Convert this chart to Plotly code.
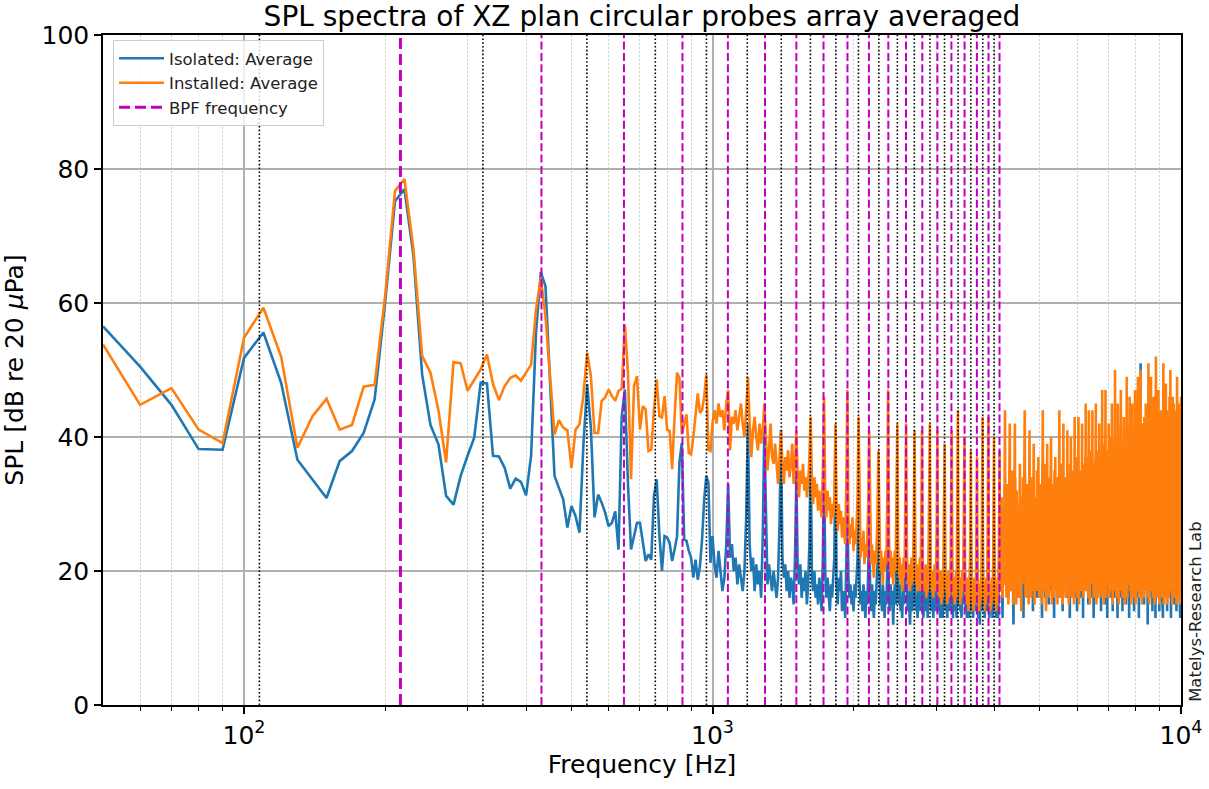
import math
import plotly.graph_objects as go

# ---------------- data ----------------
# Spectrum bins every 10 Hz
freq_low = list(range(50, 1001, 10))      # 96 bins
freq_mid = list(range(1010, 4101, 10))    # 310 bins
freq_high = list(range(4110, 10001, 10))  # 590 bins

isolated_low = [
    56.5, 50.5, 44.8, 38.2, 38.1, 51.8,
    55.6, 48.1, 36.6, 33.6, 30.9, 36.4, 37.9, 40.6, 45.6, 60.0,
    75.2, 77.0, 67.0, 49.3, 41.8, 38.9, 31.2, 29.9, 34.2, 37.2,
    39.9, 48.1, 48.0, 37.2, 37.1, 35.4, 32.3, 33.8, 33.3, 31.3,
    37.2, 55.6, 64.6, 62.5, 48.1, 34.2, 32.4, 30.7, 26.5, 29.7,
    28.2, 25.7, 38.6, 47.9, 41.4, 28.0, 31.4, 30.2, 28.7, 26.7,
    27.2, 28.9, 23.2, 43.1, 47.1, 33.0, 23.2, 25.0, 27.2, 27.2,
    24.2, 21.5, 22.5, 21.7, 31.2, 33.7, 25.5, 20.0, 25.2, 25.0,
    24.2, 21.5, 23.2, 25.2, 36.2, 39.1, 24.7, 24.5, 23.0, 22.0,
    19.0, 21.7, 18.7, 20.7, 24.7, 30.7, 34.2, 33.2, 21.2, 25.2,
]
installed_low = [
    53.8, 44.8, 47.3, 41.1, 39.1, 54.8,
    59.3, 52.0, 38.4, 43.1, 45.7, 41.1, 41.8, 47.5, 47.8, 61.0,
    76.7, 78.5, 68.0, 52.1, 49.6, 44.0, 36.2, 51.2, 51.0, 46.9,
    48.5, 50.1, 52.3, 47.9, 45.5, 47.6, 48.8, 49.2, 48.4, 49.6,
    50.8, 59.0, 63.8, 58.0, 49.1, 40.4, 42.5, 41.4, 41.0, 35.4,
    41.1, 41.9, 46.1, 52.6, 49.1, 40.6, 40.6, 45.4, 45.9, 47.1,
    46.1, 45.4, 46.9, 47.2, 56.8, 49.6, 33.7, 47.6, 49.1, 41.1,
    44.6, 44.1, 37.9, 38.1, 44.1, 48.6, 43.1, 42.9, 46.1, 41.1,
    40.9, 35.2, 43.1, 49.6, 48.8, 40.4, 42.0, 43.4, 37.6, 37.4,
    40.0, 43.6, 46.5, 43.6, 44.0, 46.0, 49.3, 38.1, 37.9, 42.1,
]

isolated_mid = [
    21, 19, 23, 20, 17, 19, 24, 33, 22, 24,
    20, 22, 18, 21, 19, 17, 20, 28, 42, 24,
    20, 22, 17, 21, 18, 20, 16, 25, 41, 26,
    18, 21, 19, 17, 20, 18, 16, 19, 27, 41,
    22, 19, 21, 17, 20, 16, 19, 18, 15, 22,
    34, 20, 18, 21, 16, 19, 17, 20, 15, 18,
    24, 38, 19, 17, 20, 16, 18, 15, 19, 17,
    14, 22, 37, 20, 16, 19, 17, 14, 18, 16,
    19, 22, 40, 18, 15, 19, 17, 20, 14, 17,
    16, 13, 21, 30, 19, 16, 18, 15, 17, 14,
    18, 16, 19, 22, 33, 18, 15, 17, 14, 18,
    16, 13, 17, 15, 20, 28, 17, 14, 18, 16,
    13, 17, 15, 18, 21, 31, 19, 15, 17, 14,
    18, 16, 13, 17, 15, 20, 27, 16, 14, 18,
    15, 17, 12, 16, 18, 15, 21, 30, 17, 15,
    18, 14, 16, 13, 17, 15, 18, 20, 26, 16,
    14, 17, 15, 12, 16, 18, 14, 16, 21, 28,
    17, 14, 16, 13, 17, 15, 18, 14, 20, 25,
    16, 13, 17, 15, 18, 14, 16, 13, 17, 21,
    29, 17, 14, 18, 15, 13, 17, 15, 18, 14,
    20, 26, 16, 14, 17, 13, 16, 18, 15, 13,
    17, 21, 27, 17, 14, 16, 13, 18, 15, 17,
    14, 16, 20, 25, 16, 13, 17, 15, 18, 14,
    16, 13, 19, 27, 18, 15, 17, 14, 16, 13,
    17, 15, 18, 20, 24, 16, 14, 17, 13, 16,
    18, 15, 13, 17, 20, 26, 17, 14, 16, 13,
    17, 15, 18, 14, 16, 20, 24, 16, 13, 17,
    15, 12, 16, 18, 14, 19, 27, 17, 14, 16,
    13, 17, 15, 18, 14, 16, 20, 25, 16, 13,
    17, 15, 18, 14, 16, 13, 17, 20, 26, 17,
    14, 16, 13, 18, 15, 17, 13, 16, 19, 25,
]
installed_mid = [
    44, 42, 45, 43, 44, 41, 45, 47, 38, 43,
    42, 44, 41, 43, 45, 42, 40, 44, 49, 42,
    37, 41, 43, 40, 38, 42, 39, 41, 45, 40,
    35, 38, 42, 37, 36, 39, 35, 33, 37, 41,
    36, 33, 37, 35, 38, 34, 36, 39, 33, 36,
    41, 34, 31, 35, 33, 36, 32, 34, 31, 33,
    37, 43, 33, 30, 34, 31, 33, 29, 32, 30,
    28, 35, 46, 31, 28, 32, 29, 31, 27, 30,
    28, 31, 42, 29, 26, 30, 27, 29, 25, 28,
    26, 24, 33, 47, 28, 24, 27, 25, 28, 23,
    26, 24, 27, 31, 43, 26, 22, 25, 23, 26,
    21, 24, 22, 25, 30, 41, 25, 21, 24, 22,
    19, 23, 21, 24, 28, 38, 24, 20, 23, 21,
    18, 22, 20, 23, 21, 30, 47, 25, 20, 23,
    19, 22, 18, 21, 23, 20, 28, 42, 24, 19,
    22, 18, 21, 17, 20, 22, 19, 27, 42, 23,
    18, 21, 19, 17, 20, 22, 18, 20, 28, 41,
    22, 18, 21, 17, 20, 18, 22, 17, 27, 41,
    21, 17, 20, 18, 21, 16, 19, 17, 20, 28,
    42, 21, 17, 20, 18, 16, 19, 21, 17, 19,
    27, 41, 20, 16, 19, 17, 20, 15, 18, 16,
    19, 26, 39, 21, 17, 19, 15, 18, 20, 16,
    18, 17, 26, 41, 20, 16, 19, 17, 15, 18,
    20, 16, 27, 44, 21, 17, 19, 15, 18, 16,
    20, 17, 19, 26, 40, 20, 16, 18, 15, 19,
    17, 14, 18, 16, 25, 38, 19, 15, 18, 16,
    14, 19, 17, 15, 18, 25, 37, 19, 15, 18,
    14, 17, 15, 19, 16, 27, 43, 20, 16, 18,
    14, 17, 15, 19, 16, 18, 26, 43, 19, 15,
    18, 14, 17, 15, 19, 16, 18, 25, 40, 19,
    15, 18, 14, 17, 15, 19, 16, 18, 25, 38,
]

isolated_high = [
    18, 24, 17, 27, 20, 13, 25, 21, 18, 26,
    33, 19, 25, 17, 28, 18, 23, 16, 26, 22,
    31, 20, 17, 27, 18, 30, 19, 22, 12, 24, 27,
    34, 18, 24, 17, 28, 19, 16, 26, 21, 18, 27,
    30, 18, 25, 16, 27, 20, 17, 29, 13, 23, 25,
    35, 19, 17, 26, 22, 18, 29, 18, 24, 16, 27,
    32, 17, 26, 20, 18, 30, 18, 23, 14, 26,
    31, 21, 17, 27, 17, 24, 19, 16, 30, 18, 25,
    30, 18, 16, 26, 22, 18, 29, 17, 25, 13, 28,
    36, 20, 17, 26, 18, 31, 16, 23, 17, 27, 24,
    33, 17, 27, 19, 15, 29, 21, 17, 25, 27,
    32, 18, 17, 29, 20, 16, 26, 22, 13, 30, 19,
    31, 23, 17, 27, 18, 25, 16, 30, 19, 17, 26,
    36, 18, 16, 28, 21, 17, 31, 17, 24, 14, 26,
    34, 20, 17, 27, 17, 30, 23, 16, 28, 18, 25,
    33, 16, 29, 19, 17, 26, 22, 13, 31, 24,
    32, 18, 17, 27, 21, 16, 30, 19, 25, 17, 28,
    35, 19, 16, 30, 17, 24, 20, 14, 32, 18, 27,
    35, 21, 17, 28, 19, 26, 16, 31, 22, 17, 27,
    34, 17, 25, 13, 31, 19, 27, 17, 29, 21, 24,
    37, 18, 17, 30, 23, 17, 32, 20, 15, 27,
    36, 19, 26, 17, 31, 18, 25, 16, 33, 21, 24,
    36, 17, 29, 20, 13, 32, 19, 26, 17, 30, 23,
    37, 18, 16, 33, 21, 17, 28, 24, 17, 31, 19,
    35, 25, 17, 32, 19, 29, 14, 22, 17, 31,
    38, 20, 16, 30, 23, 17, 34, 18, 27, 15, 29,
    38, 19, 26, 17, 33, 21, 13, 31, 20, 24, 17,
    35, 22, 17, 32, 18, 27, 16, 35, 20, 25, 17,
    37, 19, 30, 14, 34, 23, 17, 32, 19, 27, 16,
    40, 21, 17, 33, 24, 16, 31, 20, 28, 13,
    37, 19, 32, 22, 17, 35, 17, 26, 20, 31, 16,
    39, 23, 16, 30, 19, 34, 14, 28, 21, 18, 32,
    36, 17, 31, 24, 17, 36, 20, 27, 15, 33, 19,
    40, 22, 17, 34, 19, 29, 16, 37, 23, 13, 31,
    38, 20, 32, 17, 28, 25, 16, 35, 18, 30,
    37, 16, 33, 21, 17, 31, 24, 14, 36, 19, 27,
    39, 23, 17, 34, 18, 29, 16, 33, 21, 17, 37,
    41, 18, 30, 24, 13, 35, 20, 28, 17, 33, 22,
    51, 19, 17, 36, 25, 16, 32, 21, 29, 17,
    36, 34, 18, 27, 15, 38, 22, 17, 33, 20, 30,
    38, 17, 35, 23, 17, 31, 19, 39, 12, 28, 25,
    42, 18, 34, 21, 16, 37, 26, 17, 32, 20, 29,
    41, 23, 17, 36, 19, 30, 14, 40, 21, 17, 34,
    39, 20, 32, 25, 17, 38, 18, 29, 13, 35,
    43, 22, 16, 34, 20, 39, 17, 27, 24, 17, 37,
    40, 19, 31, 23, 14, 36, 21, 17, 35, 19, 29,
    38, 25, 17, 38, 18, 32, 16, 35, 22, 13, 33,
    48, 20, 17, 37, 24, 16, 34, 19, 30, 17, 40,
    41, 21, 35, 17, 28, 23, 14, 39, 19, 31,
    37, 17, 36, 24, 16, 33, 20, 41, 18, 27, 22,
    43, 19, 32, 13, 38, 23, 17, 35, 21, 17, 36,
    40, 25, 17, 34, 20, 40, 15, 30, 22, 18, 35,
    38, 20, 17, 37, 24, 17, 33, 14, 31, 23,
    42, 18, 35, 21, 16, 39, 25, 17, 32, 20, 36,
    39, 17, 29, 22, 13, 34, 24, 19, 40,
]
installed_high = [
    20, 27, 17, 31, 22, 16, 29, 24, 18, 30,
    44, 21, 28, 16, 33, 19, 26, 15, 30, 27,
    42, 23, 17, 30, 20, 35, 18, 25, 15, 28, 31,
    42, 19, 27, 15, 32, 22, 17, 29, 24, 16, 30,
    36, 20, 28, 14, 31, 23, 18, 34, 19, 26, 29,
    44, 22, 16, 30, 25, 17, 33, 20, 27, 15, 31,
    41, 18, 29, 23, 16, 34, 21, 26, 17, 30,
    39, 24, 15, 31, 19, 27, 22, 17, 35, 20, 28,
    37, 21, 16, 30, 25, 18, 33, 19, 28, 15, 32,
    44, 23, 17, 29, 20, 36, 18, 26, 14, 31, 27,
    39, 19, 30, 22, 16, 34, 24, 18, 28, 31,
    40, 20, 15, 33, 23, 18, 29, 25, 16, 35, 22,
    37, 26, 17, 31, 20, 28, 15, 34, 22, 19, 30,
    44, 21, 16, 32, 24, 18, 36, 20, 27, 15, 29,
    42, 23, 17, 30, 19, 34, 26, 16, 31, 21, 28,
    41, 18, 33, 22, 15, 29, 25, 19, 36, 27,
    40, 20, 16, 31, 24, 18, 35, 21, 28, 15, 32,
    43, 22, 17, 34, 19, 27, 23, 16, 37, 20, 30,
    43, 24, 15, 32, 21, 29, 18, 35, 25, 17, 31,
    42, 19, 28, 16, 36, 22, 30, 17, 33, 24, 27,
    45, 21, 17, 34, 26, 19, 37, 23, 16, 31,
    44, 22, 30, 15, 35, 20, 28, 18, 38, 24, 27,
    44, 19, 33, 23, 16, 36, 21, 29, 17, 34, 26,
    45, 20, 15, 38, 24, 18, 31, 27, 16, 35, 22,
    42, 28, 17, 37, 21, 33, 19, 25, 16, 36,
    47, 23, 18, 34, 26, 15, 39, 20, 30, 17, 33,
    47, 21, 29, 16, 38, 24, 19, 35, 22, 27, 18,
    42, 25, 16, 37, 20, 31, 17, 40, 23, 28, 19,
    45, 22, 34, 15, 39, 26, 18, 36, 21, 30, 17,
    50, 24, 19, 38, 27, 16, 35, 22, 31, 18,
    45, 21, 37, 25, 15, 40, 19, 29, 23, 36, 17,
    47, 26, 18, 34, 22, 39, 16, 31, 24, 20, 37,
    43, 19, 36, 27, 15, 41, 23, 30, 17, 38, 22,
    49, 25, 16, 39, 21, 33, 18, 42, 26, 19, 35,
    46, 23, 37, 17, 31, 28, 15, 40, 20, 34,
    45, 18, 38, 24, 16, 35, 27, 19, 41, 22, 30,
    47, 26, 15, 39, 21, 33, 17, 37, 24, 18, 42,
    49, 20, 34, 27, 16, 40, 23, 31, 18, 38, 25,
    50, 22, 17, 41, 28, 15, 36, 24, 33, 19,
    42, 39, 21, 30, 16, 43, 25, 18, 37, 23, 34,
    45, 17, 40, 26, 19, 35, 22, 44, 16, 31, 28,
    51, 20, 38, 24, 15, 42, 29, 18, 36, 23, 33,
    49, 26, 17, 41, 21, 34, 19, 45, 24, 16, 39,
    46, 22, 36, 28, 15, 43, 20, 32, 18, 40,
    52, 25, 16, 38, 23, 44, 19, 30, 27, 17, 42,
    47, 21, 35, 26, 15, 41, 24, 18, 39, 22, 33,
    44, 28, 17, 43, 20, 36, 16, 40, 25, 19, 37,
    51, 23, 15, 42, 27, 18, 38, 21, 34, 16, 45,
    48, 24, 39, 19, 31, 26, 15, 44, 22, 35,
    43, 18, 40, 27, 16, 37, 23, 46, 20, 30, 25,
    50, 21, 36, 17, 43, 26, 19, 39, 24, 15, 41,
    46, 28, 18, 38, 22, 45, 16, 33, 25, 20, 40,
    44, 23, 17, 42, 27, 19, 37, 15, 35, 26,
    49, 20, 39, 24, 16, 44, 28, 18, 36, 22, 41,
    45, 19, 33, 25, 15, 38, 27, 21, 46,
]

# Blade passing frequency and its harmonics (vertical guide lines)
bpf_hz = 215.7
bpf_orders = list(range(1, 20))                       # 1..19 x BPF
half_orders = [n - 0.5 for n in range(1, 20)]        # 0.5..18.5 x BPF

# ---------------- assemble ----------------
def join(fs, vs):
    xs, ys = [], []
    for f_list, v_list in zip(fs, vs):
        n = min(len(f_list), len(v_list))
        xs += f_list[:n]
        ys += v_list[:n]
    return xs, ys

x_iso, y_iso = join([freq_low, freq_mid, freq_high], [isolated_low, isolated_mid, isolated_high])
x_ins, y_ins = join([freq_low, freq_mid, freq_high], [installed_low, installed_mid, installed_high])

def vlines(freqs):
    xs, ys = [], []
    for f in freqs:
        xs += [f, f, None]
        ys += [0, 100, None]
    return xs, ys

FONT = "DejaVu Sans"
BLUE = "#1f77b4"
ORANGE = "#ff7f0e"
MAGENTA = "#bf00bf"

fig = go.Figure()
fig.add_trace(go.Scatter(x=x_iso, y=y_iso, mode="lines", name="Isolated: Average",
                         line=dict(color=BLUE, width=2.6)))
fig.add_trace(go.Scatter(x=x_ins, y=y_ins, mode="lines", name="Installed: Average",
                         line=dict(color=ORANGE, width=2.6)))

hx, hy = vlines([bpf_hz * k for k in half_orders])
fig.add_trace(go.Scatter(x=hx, y=hy, mode="lines", showlegend=False, hoverinfo="skip",
                         line=dict(color="black", width=1.6, dash="1.6px,2.2px")))
bx, by = vlines([bpf_hz * bpf_orders[0]])
fig.add_trace(go.Scatter(x=bx, y=by, mode="lines", name="BPF frequency",
                         line=dict(color=MAGENTA, width=3, dash="11px,5px")))
mx, my = vlines([bpf_hz * k for k in bpf_orders[1:]])
fig.add_trace(go.Scatter(x=mx, y=my, mode="lines", showlegend=False, hoverinfo="skip",
                         line=dict(color=MAGENTA, width=2, dash="8px,3.3px")))

minor_ticks = [60, 70, 80, 90, 200, 300, 400, 500, 600, 700, 800, 900,
               2000, 3000, 4000, 5000, 6000, 7000, 8000, 9000]

fig.update_layout(
    width=1209, height=789,
    margin=dict(l=103, r=28, t=35, b=84),
    paper_bgcolor="white", plot_bgcolor="white",
    font=dict(family=FONT, color="black", size=25),
    title=dict(text="SPL spectra of XZ plan circular probes array averaged",
               x=(103 + 1181) / 2 / 1209, xanchor="center",
               y=1 - 16 / 789, yanchor="middle", yref="container",
               font=dict(size=28, family=FONT, color="black")),
    showlegend=True,
    legend=dict(x=0.0093, y=0.9925, xanchor="left", yanchor="top",
                bgcolor="rgba(255,255,255,0.8)", bordercolor="#cccccc", borderwidth=1,
                font=dict(size=16.5, family=FONT, color="#222222"),
                itemwidth=45, tracegroupgap=0),
    xaxis=dict(
        type="log", range=[math.log10(50), 4], automargin=False,
        tickvals=[100, 1000, 10000],
        ticktext=["10<sup>2</sup>", "10<sup>3</sup>", "10<sup>4</sup>"],
        ticks="outside", ticklen=7, tickwidth=1.5, tickcolor="black",
        showgrid=True, gridcolor="#b0b0b0", gridwidth=1.5,
        showline=True, linecolor="black", linewidth=1.5, mirror=True,
        zeroline=False,
        tickfont=dict(size=25, family=FONT),
        title=dict(text="Frequency [Hz]", font=dict(size=25, family=FONT), standoff=6),
        minor=dict(tickvals=minor_ticks, ticks="outside", ticklen=4, tickwidth=1.2,
                   tickcolor="black", showgrid=True, gridcolor="#cfcfcf",
                   griddash="1.5px,2.5px", gridwidth=1),
    ),
    yaxis=dict(
        range=[0, 100], tickvals=[0, 20, 40, 60, 80, 100], automargin=False,
        ticks="outside", ticklen=7, tickwidth=1.5, tickcolor="black",
        showgrid=True, gridcolor="#b0b0b0", gridwidth=1.5,
        showline=True, linecolor="black", linewidth=1.5, mirror=True,
        zeroline=False,
        tickfont=dict(size=25, family=FONT),
        title=dict(text="SPL [dB re 20 <i>μ</i>Pa]", font=dict(size=25, family=FONT), standoff=14),
    ),
    annotations=[dict(text="Matelys-Research Lab", textangle=-90,
                      xref="paper", yref="paper", x=(1196 - 103) / 1078, y=0.139,
                      xanchor="center", yanchor="middle", showarrow=False,
                      font=dict(size=16.5, family=FONT, color="#222222"))],
)

fig.write_html("out.html")
